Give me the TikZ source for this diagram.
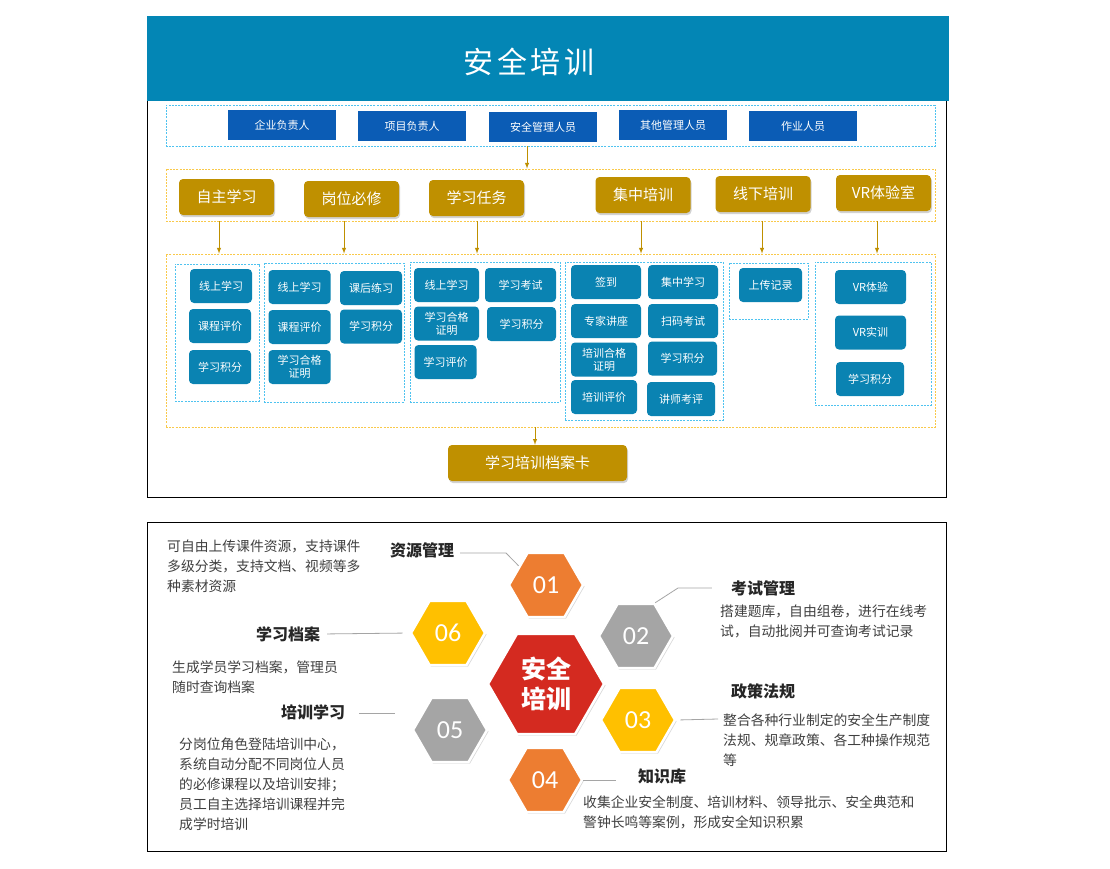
\documentclass[tikz,border=0pt]{standalone}
\usepackage{fontspec}
\setmainfont{Noto Sans CJK SC}
\newfontfamily\numfont{Carlito}
\usetikzlibrary{shapes.geometric, shadows}
\definecolor{headblue}{HTML}{0386B5}
\definecolor{roleblue}{HTML}{0B5CB5}
\definecolor{itemteal}{HTML}{0A83B2}
\definecolor{modegold}{HTML}{BF9000}
\definecolor{dashgold}{HTML}{F9C94A}
\definecolor{dashcyan}{HTML}{4FC3F0}
\definecolor{hexorange}{HTML}{ED7D31}
\definecolor{hexgray}{HTML}{A5A5A5}
\definecolor{hexyellow}{HTML}{FFC000}
\definecolor{hexred}{HTML}{D42A20}
\begin{document}
\begin{tikzpicture}[x=1pt, y=-1pt]
\tikzstyle{role} = [rectangle, text centered, minimum width=108pt, minimum height=30pt, fill=roleblue, text=white, font=\fontsize{11}{13}\selectfont]
\tikzstyle{mode} = [rectangle, rounded corners=4pt, text centered, minimum width=95pt, minimum height=36pt, fill=modegold, text=white, font=\fontsize{15}{18}\selectfont, drop shadow={opacity=0.35, shadow xshift=1pt, shadow yshift=-2pt}]
\tikzstyle{item} = [rectangle, rounded corners=4pt, text centered, minimum width=62pt, minimum height=34pt, inner sep=1pt, fill=itemteal, text=white, font=\fontsize{11}{12}\selectfont]
\tikzstyle{cbox} = [rectangle, draw=dashcyan, dash pattern=on 2pt off 1.2pt, line width=0.8pt]
\tikzstyle{gbox} = [rectangle, draw=dashgold, dash pattern=on 2pt off 1.2pt, line width=0.8pt]
\tikzstyle{hex} = [regular polygon, regular polygon sides=6, minimum size=74pt, inner sep=0pt, draw=white, line width=2.5pt, text=white, font=\numfont\fontsize{26}{26}\selectfont, drop shadow={opacity=0.3, shadow xshift=1.5pt, shadow yshift=-1.5pt}]
\tikzstyle{topic} = [inner sep=0pt, text=black!85, font=\bfseries\fontsize{16}{18}\selectfont]
\tikzstyle{note} = [anchor=north west, align=left, inner sep=0pt, text=black!75, font=\fontsize{13.8}{20}\selectfont]
\useasboundingbox (0,0) rectangle (1110,868);
\fill[white] (0,0) rectangle (1110,868);
% upper panel
\draw[line width=1pt] (147,100) rectangle (946,497);
\node[rectangle, fill=headblue, anchor=north west, minimum width=802pt, minimum height=85pt] at (147,16) (head){};
\node[text=white, font=\fontsize{30}{32}\selectfont\addfontfeatures{LetterSpace=12}] at (529,62) (title){安全培训};
\node[cbox, minimum width=769pt, minimum height=41pt] at (550.5,125.5) (roles){};
\node[gbox, minimum width=769pt, minimum height=52pt] at (550.5,195) (modes){};
\node[gbox, minimum width=769pt, minimum height=173pt] at (550.5,340.5) (items){};
\node[role] at (282,125) (r0){企业负责人};
\node[role] at (412,126) (r1){项目负责人};
\node[role] at (543,127) (r2){安全管理人员};
\node[role] at (673,125) (r3){其他管理人员};
\node[role] at (803,126) (r4){作业人员};
\node[mode] at (226.5,197) (m0){自主学习};
\node[mode] at (351.5,199) (m1){岗位必修};
\node[mode] at (476.5,198) (m2){学习任务};
\node[mode] at (643,195) (m3){集中培训};
\node[mode] at (763,194) (m4){线下培训};
\node[mode] at (883.5,193) (m5){VR体验室};
\node[cbox, minimum width=84pt, minimum height=137pt] at (217,332.5) (g0){};
\node[cbox, minimum width=140pt, minimum height=139pt] at (334,332.5) (g1){};
\node[cbox, minimum width=150pt, minimum height=140pt] at (485,332) (g2){};
\node[cbox, minimum width=158pt, minimum height=158pt] at (644,341) (g3){};
\node[cbox, minimum width=79pt, minimum height=56pt] at (768.5,291) (g4){};
\node[cbox, minimum width=116pt, minimum height=143pt] at (873,333.5) (g5){};
\node[item] at (221,286) (g0_0){线上学习};
\node[item] at (220,326) (g0_1){课程评价};
\node[item] at (220,367) (g0_2){学习积分};
\node[item] at (299.5,287) (g1_0){线上学习};
\node[item] at (371,288) (g1_1){课后练习};
\node[item] at (299.5,327) (g1_2){课程评价};
\node[item] at (371,326.5) (g1_3){学习积分};
\node[item] at (299.5,367) (g1_4){\shortstack{学习合格\\证明}};
\node[item, minimum width=65pt] at (446.5,285) (g2_0){线上学习};
\node[item, minimum width=71pt] at (520.5,285) (g2_1){学习考试};
\node[item, minimum width=65pt] at (446.5,323.5) (g2_2){\shortstack{学习合格\\证明}};
\node[item, minimum width=69pt] at (521.5,324) (g2_3){学习积分};
\node[item] at (445.5,362) (g2_4){学习评价};
\node[item, minimum width=70pt] at (606,282) (g3_0){签到};
\node[item, minimum width=70pt] at (683,282) (g3_1){集中学习};
\node[item, minimum width=70pt] at (606,321) (g3_2){专家讲座};
\node[item, minimum width=70pt] at (683,321) (g3_3){扫码考试};
\node[item, minimum width=66pt] at (604,359.5) (g3_4){\shortstack{培训合格\\证明}};
\node[item, minimum width=69pt] at (682.5,358.5) (g3_5){学习积分};
\node[item, minimum width=66pt] at (604,397) (g3_6){培训评价};
\node[item, minimum width=68pt] at (681,399) (g3_7){讲师考评};
\node[item, minimum width=63pt] at (770.5,285) (g4_0){上传记录};
\node[item, minimum width=71pt] at (870.5,287) (g5_0){VR体验};
\node[item, minimum width=71pt] at (870.5,332.5) (g5_1){VR实训};
\node[item, minimum width=68pt] at (870,379) (g5_2){学习积分};
\node[mode, minimum width=179pt] at (537.5,463) (card){学习培训档案卡};
\coordinate (a0) at (219,0);
\coordinate (a1) at (344,0);
\coordinate (a2) at (477,0);
\coordinate (a3) at (641,0);
\coordinate (a4) at (762,0);
\coordinate (a5) at (877,0);
\begin{scope}[modegold, line width=1pt, >=latex]
\draw[->] ([xshift=-23.5pt]roles.south) -- ([xshift=-23.5pt]modes.north);
\draw[->] (a0 |- modes.south) -- (a0 |- items.north);
\draw[->] (a1 |- modes.south) -- (a1 |- items.north);
\draw[->] (a2 |- modes.south) -- (a2 |- items.north);
\draw[->] (a3 |- modes.south) -- (a3 |- items.north);
\draw[->] (a4 |- modes.south) -- (a4 |- items.north);
\draw[->] (a5 |- modes.south) -- (a5 |- items.north);
\draw[->] ([xshift=-2.5pt]card.north |- items.south) -- ([xshift=-2.5pt]card.north);
\end{scope}
% lower panel
\draw[line width=1pt] (147,522) rectangle (946,851);
\node[hex, fill=hexorange] at (546,585) (h1){01};
\node[hex, fill=hexgray] at (636,636) (h2){02};
\node[hex, fill=hexyellow] at (638,720) (h3){03};
\node[hex, fill=hexorange] at (545,780) (h4){04};
\node[hex, fill=hexgray] at (450,730) (h5){05};
\node[hex, fill=hexyellow] at (448,633) (h6){06};
\node[hex, fill=hexred, minimum size=116pt, align=center, font=\bfseries\fontsize{25}{30}\selectfont] at (546,684) (h0){安全\\培训};
\node[topic] at (422,550) (t1){资源管理};
\node[topic] at (763,588) (t2){考试管理};
\node[topic] at (763,691) (t3){政策法规};
\node[topic] at (662,776) (t4){知识库};
\node[topic] at (313,712) (t5){培训学习};
\node[topic] at (288,634) (t6){学习档案};
\node[note] at (167,540) (d1){可自由上传课件资源，支持课件\\多级分类，支持文档、视频等多\\种素材资源};
\node[note] at (720,605) (d2){搭建题库，自由组卷，进行在线考\\试，自动批阅并可查询考试记录};
\node[note] at (723,714) (d3){整合各种行业制定的安全生产制度\\法规、规章政策、各工种操作规范\\等};
\node[note] at (583,796) (d4){收集企业安全制度、培训材料、领导批示、安全典范和\\警钟长鸣等案例，形成安全知识积累};
\node[note] at (179,738) (d5){分岗位角色登陆培训中心，\\系统自动分配不同岗位人员\\的必修课程以及培训安排；\\员工自主选择培训课程并完\\成学时培训};
\node[note] at (172,661) (d6){生成学员学习档案，管理员\\随时查询档案};
\coordinate (c1) at (506,553);
\coordinate (c2) at (678,588);
\coordinate (c3) at (718,719);
\coordinate (c5) at (395,713);
\begin{scope}[hexgray, line width=0.8pt]
\draw[shorten >=6pt] (h1.145) -- (c1) -- (c1 -| t1.east);
\draw[shorten >=19pt] (h2.60) -- (c2) -- (t2.west);
\draw[shorten <=4pt] (h3.east) -- (c3);
\draw[shorten >=22pt] (h4.east) -- (h4.east -| t4.west);
\draw[shorten <=14pt] (t5.east |- c5) -- (c5);
\draw[shorten <=7pt, shorten >=7pt] (t6.east) -- (h6.west);
\end{scope}
\end{tikzpicture}
\end{document}
